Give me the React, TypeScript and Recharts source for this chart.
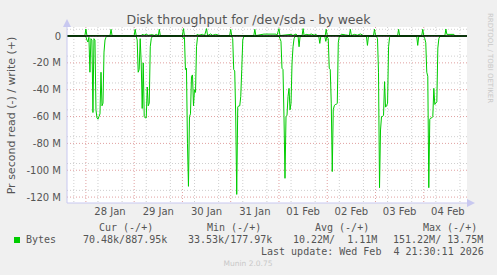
import { LineChart, Line, XAxis, YAxis, CartesianGrid, ReferenceLine } from 'recharts';

// hours since 27 Jan 00:00, values in MB/s (read plotted negative)
const readSeries: [number, number][] = [
  [14.6, -0.2], [23.5, -0.2], [24, -0.5], [24.5, -3], [25, -4.5], [25.5, -1], [26, -27], [26.5, -2], [27, -3],
  [27.5, -57], [28, -2], [28.5, -3], [29, -55], [29.5, -61], [30, -62], [30.5, -60], [31, -58], [31.5, -27],
  [32, -52], [32.5, -50], [33, -12], [33.5, -3], [34, -1], [34.5, -0.2],
  [49, -0.2], [49.5, -3], [50, -27], [50.5, -25], [51, -2], [51.5, -20], [52, -54], [52.5, -20], [53, -60],
  [53.5, -61], [54, -61], [54.5, -38], [55, -52], [55.5, -50], [56, -8], [56.5, -2], [57, -0.3],
  [72, -0.2], [72.5, -2], [73, -1], [73.5, -25], [74, -24], [74.5, -80], [75, -112], [75.5, -60], [76, -58],
  [76.5, -30], [77, -29], [77.5, -52], [78, -40], [78.5, -42], [79, -8], [79.5, -1], [80, -0.2],
  [96.5, -0.2], [97, -2], [97.5, -25], [98, -26], [98.5, -60], [99, -118], [99.5, -53], [100, -52],
  [100.5, -52], [101, -45], [101.5, -25], [102, -3], [102.5, -0.3],
  [120, -0.2], [120.5, -2], [121, -4], [121.5, -24], [122, -25], [122.5, -60], [123, -106], [123.5, -60],
  [124, -59], [124.5, -45], [125, -39], [125.5, -55], [126, -50], [126.5, -20], [127, -8], [127.5, -2], [128, -0.3],
  [129.5, -0.3], [130, -8], [130.5, -0.3],
  [139.8, -0.3], [140.3, -5.5], [140.8, -0.3], [142.8, -0.3], [143.3, -4], [143.8, -0.3],
  [144.5, -2], [145, -24], [145.5, -25], [146, -50], [146.5, -101], [147, -55], [147.5, -52], [148, -51],
  [148.5, -51], [149, -50], [149.5, -5], [150, -0.3],
  [163.5, -0.3], [164, -7], [164.5, -0.3],
  [168.5, -0.3], [169, -2], [169.5, -27], [170, -113], [170.5, -70], [171, -60], [171.5, -60], [172, -59],
  [172.5, -34], [173, -53], [173.5, -52], [174, -50], [174.5, -8], [175, -1], [175.5, -0.3],
  [188.5, -0.3], [189, -7], [189.5, -0.3],
  [192, -0.3], [192.5, -2], [193, -5], [193.5, -27], [194, -30], [194.5, -113], [195, -62], [195.5, -61],
  [196, -61], [196.5, -60], [197, -39], [197.5, -51], [198, -50], [198.5, -49], [199, -9], [199.5, -2],
  [200, -0.3], [213.5, -0.1],
];

const writeSeries: [number, number][] = [
  [14.6, 0.3], [23.5, 0.3], [24, 5.2], [24.5, 0.3],
  [36, 0.3], [36.5, 5], [37, 0.3],
  [48, 0.3], [48.5, 5], [49, 0.3],
  [51.5, 0.3], [52, 1.2], [53, 0.6], [54, 1.3], [55, 0.5], [57, 1.0], [58, 0.4], [59, 1.2], [60, 0.3], [60.5, 5], [61, 0.3],
  [72, 0.3], [72.5, 5.5], [73, 0.3],
  [79, 0.3], [79.5, 1.5], [80, 0.5], [82, 1.2], [83, 0.3], [84, 5.5], [84.5, 0.3], [86, 1.5], [87, 0.5], [88.5, 1.2], [90, 0.6], [91, 0.3],
  [95.5, 0.3], [96, 5], [96.5, 0.3],
  [107.5, 0.3], [108, 5], [108.5, 0.3],
  [112.5, 1.4], [118.5, 1.4], [119, 0.5], [120, 5.5], [120.5, 0.3],
  [126, 1.2], [127, 0.4], [128.5, 1.5], [129, 0.3],
  [131.5, 0.3], [132, 5.5], [132.5, 0.3], [133.5, 1.2], [135, 0.8], [136, 1.5], [137.5, 0.6], [138.5, 1.2], [139, 0.3],
  [143, 0.3], [143.5, 5], [144, 0.3],
  [150.5, 0.3], [151, 1.3], [153, 0.8], [155, 0.3], [155.5, 5], [156, 0.3], [157.5, 1.2], [159, 0.6], [160.5, 1.5], [162, 0.3],
  [167, 0.3], [167.5, 5], [168, 0.3],
  [179, 0.3], [179.5, 5], [180, 0.3],
  [191, 0.3], [191.5, 5], [192, 0.3],
  [202.5, 0.3], [203, 5.2], [203.5, 1.2], [207, 1.2], [207.5, 0.1], [213.5, 0.1],
];

const dayTicks = [36, 60, 84, 108, 132, 156, 180, 204];
const dayLabels = ['28 Jan', '29 Jan', '30 Jan', '31 Jan', '01 Feb', '02 Feb', '03 Feb', '04 Feb'];
const yTicks = [-120, -100, -80, -60, -40, -20, 0];

const midnights = [24, 48, 72, 96, 120, 144, 168, 192];
const sixHours = [18, 30, 36, 42, 54, 60, 66, 78, 84, 90, 102, 108, 114, 126, 132, 138, 150, 156, 162, 174, 180, 186, 198, 204, 210];
const majorY = [-120, -100, -80, -60, -40, -20, 0];
const minorY = [-115, -110, -105, -95, -90, -85, -75, -70, -65, -55, -50, -45, -35, -30, -25, -15, -10, -5, 5];

const readData = readSeries.map(([h, v]) => ({ h, v }));
const writeData = writeSeries.map(([h, v]) => ({ h, v }));

const GREEN = '#00cc00';
const SANS = 'DejaVu Sans';
const MONO = 'DejaVu Sans Mono';
const NB = '\u00a0';

export default function App() {
  return (
    <div style={{ position: 'absolute', left: 0, top: 0, width: 497, height: 275, background: '#f0f0f0' }}>
      <LineChart width={497} height={275} margin={{ top: 27, right: 30, bottom: 0, left: 0 }}>
        <CartesianGrid
          fill="#ffffff"
          stroke="#cfcfcf"
          strokeDasharray="1 2"
          horizontalValues={minorY}
          verticalValues={sixHours}
        />
        <CartesianGrid
          stroke="#e0a0a0"
          strokeDasharray="1 2"
          horizontalValues={majorY}
          verticalValues={midnights}
        />
        <XAxis
          type="number"
          dataKey="h"
          domain={[14.6, 213.5]}
          ticks={dayTicks}
          tickFormatter={(v: number) => dayLabels[dayTicks.indexOf(v)]}
          allowDataOverflow
          height={72}
          tickLine={false}
          tickSize={0}
          tickMargin={5}
          axisLine={{ stroke: '#c8c8f0' }}
          tick={{ fill: '#555', fontSize: 10, fontFamily: SANS }}
        />
        <YAxis
          type="number"
          domain={[-124.4, 6.7]}
          ticks={yTicks}
          allowDataOverflow
          width={67}
          tickLine={false}
          tickSize={0}
          tickMargin={6}
          axisLine={{ stroke: '#c8c8f0' }}
          tickFormatter={(v: number) => (v === 0 ? '0' : `${v} M`)}
          tick={{ fill: '#555', fontSize: 10, fontFamily: SANS }}
        />
        <Line data={readData} dataKey="v" type="linear" stroke={GREEN} strokeWidth={1} dot={false} isAnimationActive={false} />
        <Line data={writeData} dataKey="v" type="linear" stroke={GREEN} strokeWidth={1} dot={false} isAnimationActive={false} />
        <ReferenceLine y={0} stroke="#000" strokeWidth={1.5} />
      </LineChart>

      <svg width={497} height={275} style={{ position: 'absolute', left: 0, top: 0, pointerEvents: 'none' }}>
        <polygon points="63,27 71,27 67,19" fill="#c8c8f0" />
        <polygon points="467,199 467,207 475,203" fill="#c8c8f0" />
        <text x={248.5} y={24} textAnchor="middle" fontFamily={SANS} fontSize={12.5} fill="#555">
          Disk throughput for /dev/sda - by week
        </text>
        <text
          x={15}
          y={115.5}
          textAnchor="middle"
          transform="rotate(-90 15 115.5)"
          fontFamily={SANS}
          fontSize={11}
          fill="#555"
        >
          Pr second read (-) / write (+)
        </text>
        <text
          x={488}
          y={58}
          textAnchor="middle"
          transform="rotate(90 488 58)"
          fontFamily={SANS}
          fontSize={7}
          fill="#c8c8c8"
        >
          RRDTOOL / TOBI OETIKER
        </text>
        <g fontFamily={MONO} fontSize={10} fill="#555">
          <text x={99} y={231}>Cur (-/+)</text>
          <text x={207} y={231}>Min (-/+)</text>
          <text x={315} y={231}>Avg (-/+)</text>
          <text x={423} y={231}>Max (-/+)</text>
          <rect x={14} y={237} width={6} height={6} fill={GREEN} />
          <text x={26} y={243}>Bytes</text>
          <text x={83} y={243}>70.48k/887.95k</text>
          <text x={188} y={243}>33.53k/177.97k</text>
          <text x={293} y={243}>{`10.22M/${NB}${NB}1.11M`}</text>
          <text x={393} y={243}>{`151.22M/${NB}13.75M`}</text>
          <text x={261} y={255}>{`Last update: Wed Feb${NB}${NB}4 21:30:11 2026`}</text>
        </g>
        <text x={248} y={266} textAnchor="middle" fontFamily={SANS} fontSize={7.5} fill="#c8c8c8">
          Munin 2.0.75
        </text>
      </svg>
    </div>
  );
}
